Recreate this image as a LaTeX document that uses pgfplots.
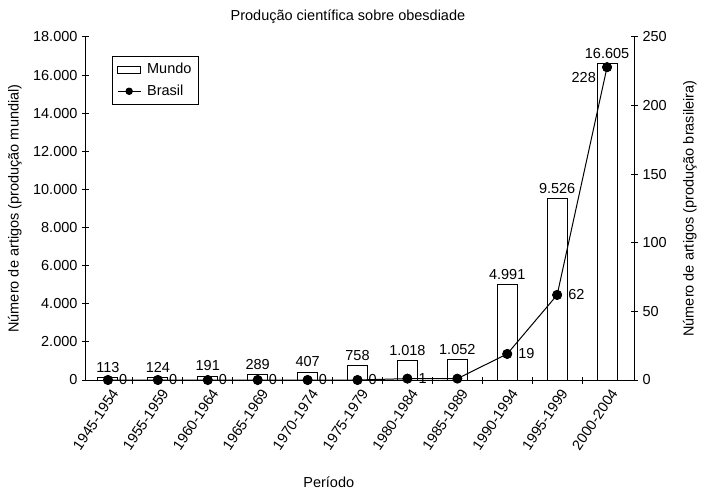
\documentclass[border=0pt]{standalone}
\usepackage{pgfplots}
\pgfplotsset{compat=1.18}
\usepackage{fontspec}
\setmainfont{Liberation Sans}
\pgfplotsset{brasil legend/.style={legend image code/.code={\draw[mark repeat=2,mark phase=2,##1] plot coordinates {(0bp,0bp)(11.5bp,0bp)(23bp,0bp)};}}}

\begin{document}
\fontsize{14.5bp}{17bp}\selectfont
\begin{tikzpicture}
\useasboundingbox (-86bp,-111bp) rectangle (616bp,380bp);
\begin{axis}[
  at={(0,0)}, anchor=south west, scale only axis,
  width=548bp, height=343bp,
  xmin=-0.44, xmax=10.54, ymin=0, ymax=18000,
  axis x line*=bottom, axis y line*=left,
  axis line style={-, black, line width=1bp},
  tick align=center, major tick length=7bp, minor tick length=7bp,
  xtick={0,...,10},
  xticklabels={1945-1954,1955-1959,1960-1964,1965-1969,1970-1974,1975-1979,1980-1984,1985-1989,1990-1994,1995-1999,2000-2004},
  xticklabel style={rotate=56, anchor=east, yshift=-10bp, xshift=3bp},
  minor xtick={0.5,1.5,...,9.5},
  major x tick style={draw=none},
  tick style={black, line width=1bp},
  ytick={0,2000,...,18000},
  scaled y ticks=false,
  ylabel={Número de artigos (produção mundial)},
  ylabel style={at={(axis description cs:-0.13,0.5)}, anchor=center},
  xlabel={Período},
  xlabel style={at={(axis description cs:0.443,-0.297)}, anchor=center},
  title={Produção científica sobre obesdiade},
  title style={at={(axis description cs:0.478,1.058)}, anchor=center, yshift=-6bp},
  legend style={at={(0.047,0.945)}, anchor=north west, draw=black, line width=0.8bp,
    cells={anchor=west}, row sep=5bp, inner xsep=5bp, inner ysep=5bp,
    /tikz/every odd column/.append style={column sep=4bp}},
  /pgf/number format/.cd, fixed, precision=0, 1000 sep={.}, assume math mode=true
]
\addplot[ybar, bar width=0.4, draw=black, fill=white, line width=1bp,
  nodes near coords,
  every node near coord/.append style={black},
  legend image code/.code={\draw[black, fill=white, line width=0.8bp] (0bp,-3.5bp) rectangle (23bp,3.5bp);}]
  coordinates {(0,113) (1,124) (2,191) (3,289) (4,407) (5,758) (6,1018) (7,1052) (8,4991) (9,9526) (10,16605)};
\addlegendentry{Mundo}
\addlegendimage{black, line width=1bp, mark=*, mark size=3.2bp, brasil legend}
\addlegendentry{Brasil}
\end{axis}
\begin{axis}[
  at={(0,0)}, anchor=south west, scale only axis,
  width=548bp, height=343bp,
  xmin=-0.44, xmax=10.54, ymin=0, ymax=250,
  axis y line*=right, axis x line=none,
  axis line style={-, black, line width=1bp},
  tick align=center, major tick length=7bp, tick style={black, line width=1bp},
  ytick={0,50,...,250},
  ylabel={Número de artigos (produção brasileira)},
  ylabel style={at={(axis description cs:1.102,0.5)}, anchor=center},
  /pgf/number format/assume math mode=true
]
\addplot[black, line width=1bp, mark=*, mark size=4.5bp]
  coordinates {(0,0) (1,0) (2,0) (3,0) (4,0) (5,0) (6,1) (7,1) (8,19) (9,62) (10,228)};
\addplot[only marks, mark=*, black, mark size=4.5bp,
  nodes near coords, point meta=explicit symbolic,
  every node near coord/.append style={anchor=west, inner xsep=11bp, black}]
  coordinates {(0,0) [0] (1,0) [0] (2,0) [0] (3,0) [0] (4,0) [0] (5,0) [0] (6,1) [1] (8,19) [19] (9,62) [62]};
\addplot[only marks, mark=*, black, mark size=4.5bp,
  nodes near coords, point meta=explicit symbolic,
  every node near coord/.append style={anchor=north east, inner xsep=11bp, black}]
  coordinates {(10,228) [228]};
\end{axis}
\end{tikzpicture}
\end{document}
